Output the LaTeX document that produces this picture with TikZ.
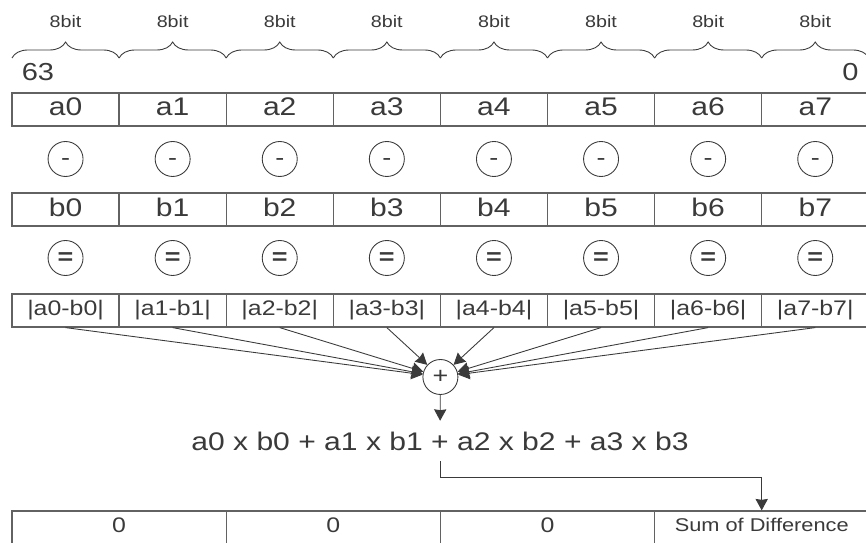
\documentclass[tikz,border=0pt]{standalone}
\usepackage{fontspec}
\setmainfont{Liberation Sans}[FakeStretch=1.18]
\usetikzlibrary{arrows.meta,decorations.pathreplacing}
\definecolor{inkgray}{HTML}{3A3A3A}
\definecolor{rulegray}{HTML}{626262}

\begin{document}
\begin{tikzpicture}[
    x=0.02cm, y=-0.02cm,
    cell/.style={draw=rulegray, line width=0.7pt, rectangle, minimum width=2.142cm, minimum height=0.66cm, inner sep=0pt, text depth=3pt, text=inkgray, font=\fontsize{14.5}{16}\selectfont},
    diff/.style={cell, font=\fontsize{12}{14}\selectfont},
    wide/.style={cell, minimum width=4.284cm, font=\fontsize{12}{14}\selectfont},
    op/.style={draw=inkgray, line width=0.5pt, circle, minimum size=0.7cm, inner sep=0pt, text height=0.7em, text depth=0pt, text=inkgray, font=\fontsize{13}{15}\selectfont},
    edge/.style={-{Stealth[length=6.5pt, width=7pt, inset=0.5pt]}, line width=0.5pt, draw=inkgray},
    bitbrace/.style={decorate, decoration={brace, amplitude=0.32cm}, draw=inkgray, line width=0.5pt},
    label/.style={text=inkgray, font=\fontsize{9.5}{11}\selectfont},
]
\useasboundingbox (0,0) rectangle (866,543);
\clip (0,0) rectangle (866,543);

% Bit ranges
\foreach \i in {0,...,7} {
  \draw[bitbrace] ({12+107.1*\i},58) -- ({119.1+107.1*\i},58);
  \node[label] (bit\i) at ({65.55+107.1*\i},22) {8bit};
}
\node[label, font=\fontsize{14}{16}\selectfont] (msb) at (38,72.5) {63};
\node[label, font=\fontsize{14}{16}\selectfont] (lsb) at (850.5,72) {0};

% Operands and differences
\foreach \i in {0,...,7} {
  \node[cell] (a\i) at ({65.55+107.1*\i},109.5) {a\i};
  \node[op] (m\i) at ({65.55+107.1*\i},159) {-};
  \node[cell] (b\i) at ({65.55+107.1*\i},209.5) {b\i};
  \node[op] (e\i) at ({65.55+107.1*\i},258) {\textbf{=}};
  \node[diff] (d\i) at ({65.55+107.1*\i},310.5) {|a\i-b\i|};
}

% Accumulation
\node[op] (plus) at (440.4,377) {+};
\foreach \i in {0,...,7}
  \draw[edge] (d\i.south) -- (plus);

\node[text=inkgray, font=\fontsize{14.5}{16}\selectfont, inner sep=6pt] (sum) at (440,441) {a0 x b0 + a1 x b1 + a2 x b2 + a3 x b3};
\draw[edge] (plus) -- (sum);

% Result register
\node[wide] (s0) at (119.1,527.5) {0};
\node[wide] (s1) at (333.3,527.5) {0};
\node[wide] (s2) at (547.5,527.5) {0};
\node[wide, font=\fontsize{10.5}{12}\selectfont] (s3) at (761.7,527.5) {Sum of Difference};

\draw[edge] (sum.south) -- ++(0,16) -| (s3.north);

\end{tikzpicture}
\end{document}
